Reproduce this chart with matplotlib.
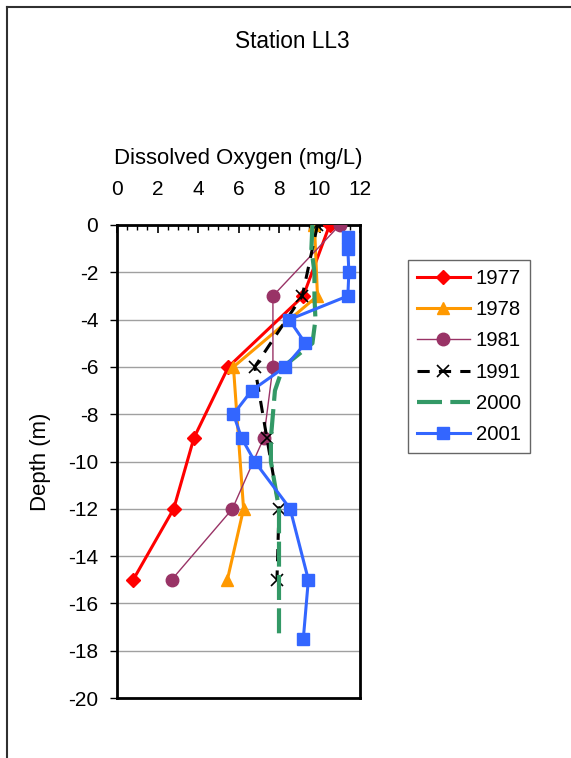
import matplotlib
matplotlib.use("Agg")
import matplotlib.pyplot as plt
from matplotlib.lines import Line2D
from matplotlib.ticker import MultipleLocator

plt.rcParams['font.family'] = ['Liberation Sans', 'DejaVu Sans']
plt.rcParams['axes.unicode_minus'] = False

# dissolved oxygen (mg/L) against depth (m), one pair of lists per year
depth_1977 = [0, -3, -6, -9, -12, -15]
do_1977 = [10.5, 9.2, 5.5, 3.8, 2.8, 0.8]

depth_1978 = [0, -3, -6, -12, -15]
do_1978 = [9.75, 9.9, 5.75, 6.25, 5.45]

depth_1981 = [0, -3, -6, -9, -12, -15]
do_1981 = [11.0, 7.7, 7.7, 7.25, 5.7, 2.7]

depth_1991 = [0, -3, -6, -9, -12, -15]
do_1991 = [9.9, 9.15, 6.8, 7.4, 8.0, 7.9]

depth_2000 = [0, -1, -2, -3, -4, -5, -6, -7, -8, -9, -10, -11, -12,
              -13, -14, -15, -16, -17, -17.5]
do_2000 = [9.65, 9.6, 9.75, 9.75, 9.8, 9.65, 8.2, 7.8, 7.7, 7.6, 7.6, 7.8, 8.0,
           8.0, 8.0, 8.0, 8.0, 8.0, 8.0]

depth_2001 = [-0.5, -1, -2, -3, -4, -5, -6, -7, -8, -9, -10, -12, -15, -17.5]
do_2001 = [11.4, 11.4, 11.45, 11.4, 8.5, 9.3, 8.3, 6.65, 5.75, 6.15, 6.8, 8.55, 9.45, 9.2]

W, H = 571, 758
fig = plt.figure(figsize=(W / 100, H / 100), dpi=100)
ax = fig.add_axes([117 / W, 1 - 698 / H, 243 / W, 473 / H])

ax.plot(do_1977, depth_1977, color='#FF0000', lw=2.2, marker='D', ms=7,
        label='1977', zorder=3)
ax.plot(do_1978, depth_1978, color='#FF9900', lw=2.2, marker='^', ms=9,
        label='1978', zorder=3)
ax.plot(do_1981, depth_1981, color='#993366', lw=1.0, marker='o', ms=9,
        label='1981', zorder=3)
ax.plot(do_1991, depth_1991, color='black', lw=2.2, ls=(0, (4, 3)), marker='x',
        ms=9, mew=1.2, label='1991', zorder=3)
ax.plot(do_2000, depth_2000, color='#339966', lw=3.0, ls=(0, (6, 2)),
        label='2000', zorder=3)
ax.plot(do_2001, depth_2001, color='#3366FF', lw=2.2, marker='s', ms=8,
        label='2001', zorder=3)

ax.set_xlim(0, 12)
ax.set_ylim(-20, 0)
ax.xaxis.set_major_locator(MultipleLocator(2))
ax.xaxis.set_minor_locator(MultipleLocator(0.5))
ax.yaxis.set_major_locator(MultipleLocator(2))
ax.xaxis.tick_top()
ax.xaxis.set_label_position('top')
ax.tick_params(axis='x', which='major', direction='in', length=6, width=1.2,
               labelsize=15, pad=18.5)
ax.tick_params(axis='x', which='minor', direction='in', length=3.5, width=1.0)
ax.tick_params(axis='y', direction='out', length=5, width=1.0,
               labelsize=15, pad=8.5)
ax.set_xlabel('Dissolved Oxygen (mg/L)', fontsize=15.9, labelpad=12)
ax.set_ylabel('Depth (m)', fontsize=15.9, labelpad=12)
ax.grid(axis='y', color='#A0A0A0', lw=1.0)
ax.set_axisbelow(True)
for s in ax.spines.values():
    s.set_linewidth(2.0)
    s.set_color('black')

fig.text(292 / W, 1 - 42 / H, 'Station LL3', ha='center', va='center',
         fontsize=16.3)

leg = ax.legend(loc='upper left', bbox_to_anchor=(408 / W, 1 - 260 / H),
                bbox_transform=fig.transFigure, fontsize=14.6, frameon=True,
                fancybox=False, edgecolor='#404040', handlelength=2.6,
                labelspacing=0.6, borderpad=0.45, handletextpad=0.3,
                borderaxespad=0)
leg.get_frame().set_linewidth(1.0)

# outer chart border (top and left edges visible)
fig.add_artist(Line2D([7 / W, 1], [1 - 7 / H, 1 - 7 / H], transform=fig.transFigure,
                      color='#303030', lw=1.5))
fig.add_artist(Line2D([7 / W, 7 / W], [0, 1 - 7 / H], transform=fig.transFigure,
                      color='#303030', lw=1.5))

fig.savefig('out.png', dpi=100)
